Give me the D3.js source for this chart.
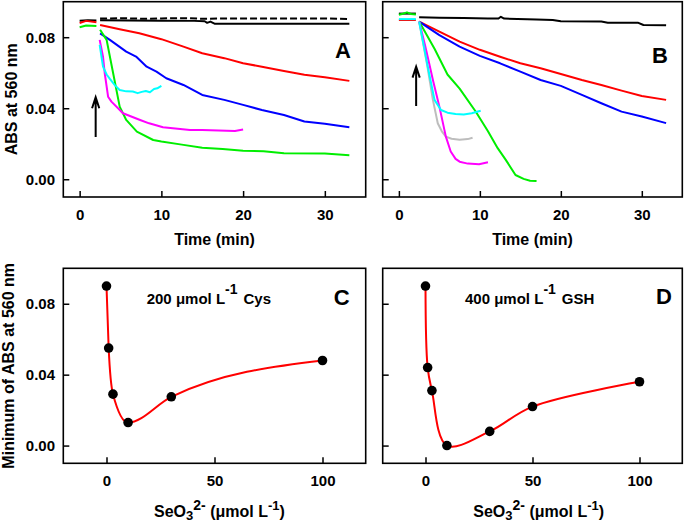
<!DOCTYPE html>
<html><head><meta charset="utf-8">
<script src="https://cdn.jsdelivr.net/npm/d3@7/dist/d3.min.js"></script>
<style>
body{margin:0;background:#fff}
svg{display:block}
text{font-family:"Liberation Sans",Arial,sans-serif;font-weight:bold;fill:#000}
</style>
</head><body>
<svg id="chart" width="685" height="524"></svg>
<script>
// ---------- tick labels ----------
const timeTicks = [0, 10, 20, 30];
const seTicks = [0, 50, 100];
const absTicks = [0, 0.04, 0.08];

// ---------- Panel A (200 umol/L Cys), [time(min), ABS] ----------
const aBlackPre = [[0,0.0893],[1,0.0896],[2.05,0.0894]];
const aRedPre = [[0,0.0880],[0.8,0.0892],[2.05,0.0884]];
const aGreenPre = [[0,0.0856],[0.8,0.0866],[2.05,0.0863]];
const aBlack = [[2.5,0.0896],[6,0.0894],[10,0.0893],[14,0.0892],[15.3,0.0890],[15.6,0.0881],[16,0.0888],[16.5,0.0876],[20,0.0876],[25,0.0876],[30,0.0876],[33,0.0876]];
const aBlackDash = [[2.5,0.0905],[5,0.0907],[8,0.0904],[10,0.0906],[13,0.0907],[15,0.0904],[18,0.0906],[20,0.0906],[25,0.0905],[30,0.0906],[33,0.0902]];
const aRed = [[2.5,0.0869],[4.9,0.0845],[7.3,0.0822],[10,0.0789],[12.7,0.0747],[15,0.0710],[17.7,0.0682],[20,0.0653],[22.3,0.0634],[25,0.0610],[27.5,0.0588],[30,0.0575],[33,0.0554]];
const aBlue = [[2.5,0.0822],[3.7,0.0785],[5.7,0.0719],[6.9,0.0691],[8.2,0.0634],[9.4,0.0606],[10.6,0.0569],[12.7,0.0531],[15,0.0475],[17.7,0.0447],[20,0.0419],[22.3,0.0390],[25,0.0362],[27.5,0.0325],[30,0.0312],[33,0.0293]];
const aGreen = [[2.5,0.0842],[3.3,0.0785],[4.1,0.0597],[4.9,0.0409],[5.7,0.0334],[7,0.0268],[9,0.0221],[10,0.0212],[12.5,0.0195],[15,0.0178],[17.5,0.0170],[20,0.0161],[22.5,0.0158],[25,0.0146],[30,0.0145],[33,0.0135]];
const aMagenta = [[2.45,0.0785],[2.86,0.0690],[3.07,0.0597],[3.48,0.0465],[3.89,0.0437],[5.3,0.0372],[7.4,0.0334],[8.5,0.0315],[10.2,0.0293],[12,0.0285],[13.5,0.0278],[15,0.0278],[17,0.0275],[19,0.0272],[20,0.0280]];
const aCyan = [[2.45,0.0757],[2.86,0.0634],[3.3,0.0590],[3.7,0.0565],[4.3,0.0530],[4.9,0.0503],[5.7,0.0495],[6.5,0.0494],[7.1,0.0485],[7.6,0.0492],[8.1,0.0497],[8.6,0.0490],[9.1,0.0508],[9.5,0.0512],[10,0.0526]];
const aArrow = [1.96, 0.0238, 0.0462];

// ---------- Panel B (400 umol/L GSH) ----------
const bBlackPre = [[0,0.0933],[2.1,0.0933]];
const bGreenPre = [[0,0.0926],[0.5,0.0932],[1,0.0940],[1.5,0.0931],[2.1,0.0928]];
const bCyanPre = [[0,0.0902],[2.1,0.0902]];
const bRedPre = [[0,0.0897],[2.1,0.0897]];
const bBlack = [[2.5,0.0913],[5,0.0910],[8,0.0908],[11,0.0905],[12.3,0.0905],[12.6,0.0915],[13,0.0905],[17,0.0900],[19,0.0897],[20,0.0890],[25,0.0888],[25.8,0.0882],[29.5,0.0882],[30.2,0.0869],[33,0.0867]];
const bRed = [[2.5,0.0888],[5,0.0832],[7.5,0.0775],[10,0.0729],[12.5,0.0690],[15,0.0653],[17.5,0.0625],[20,0.0593],[22.6,0.0559],[25,0.0531],[27.5,0.0499],[30,0.0469],[33,0.0447]];
const bBlue = [[2.5,0.0888],[5,0.0812],[7.5,0.0747],[10,0.0695],[12.5,0.0653],[15,0.0606],[17.5,0.0559],[20,0.0526],[22.6,0.0475],[25,0.0428],[27.5,0.0381],[30,0.0353],[33,0.0316]];
const bGreen = [[2.5,0.0888],[4.4,0.0735],[6,0.0590],[7.5,0.0510],[9.5,0.0380],[11,0.0270],[12.2,0.0175],[13.2,0.0109],[14.4,0.0024],[15.4,0.0002],[16.2,-0.0008],[17,-0.0010]];
const bGray = [[2.5,0.0888],[3.5,0.0640],[4.2,0.0447],[4.8,0.0315],[5.3,0.0270],[5.8,0.0240],[6.5,0.0228],[7.5,0.0222],[8.5,0.0226],[9.1,0.0234]];
const bMagenta = [[2.5,0.0888],[3.2,0.0760],[3.7,0.0660],[4.2,0.0559],[5.0,0.0409],[5.8,0.0240],[6.4,0.0156],[7.0,0.0115],[7.5,0.0099],[8.5,0.0088],[9.9,0.0085],[11,0.0096]];
const bCyan = [[2.5,0.0888],[3.0,0.0770],[3.5,0.0650],[3.8,0.0580],[4.4,0.0447],[5.2,0.0390],[6,0.0375],[7,0.0368],[8,0.0365],[9,0.0372],[10.1,0.0386]];
const bArrow = [2.13, 0.0413, 0.0634];

// ---------- Panels C, D: minimum ABS vs SeO3 2- ----------
const seC = [0, 1, 3, 10, 30, 100];
const minC = [0.090, 0.055, 0.029, 0.013, 0.0275, 0.048];
const seD = [0, 1, 3, 10, 30, 50, 100];
const minD = [0.090, 0.044, 0.031, 0.000, 0.008, 0.022, 0.036];

// ---------- drawing ----------
const svg = d3.select("#chart");
svg.append("rect").attr("width",685).attr("height",524).attr("fill","#fff");

const frames = {
  A:{x0:63.3,y0:1.7,x1:365.7,y1:197},
  B:{x0:382.7,y0:1.7,x1:682.3,y1:197},
  C:{x0:63.3,y0:268.3,x1:365.7,y1:463.3},
  D:{x0:382.7,y0:268.3,x1:682.3,y1:463.3}
};

function makePanel(f, xDom, xTicks, yLabels) {
  const x = d3.scaleLinear().domain(xDom).range([f.x0, f.x1]);
  const y = d3.scaleLinear().domain([-0.01, 0.1]).range([f.y1, f.y0]);
  const g = svg.append("g");
  const gx = g.append("g").attr("transform",`translate(0,${f.y1})`)
    .call(d3.axisBottom(x).tickValues(xTicks).tickSize(-6).tickSizeOuter(0).tickPadding(12.5).tickFormat(d3.format("d")));
  const gy = g.append("g").attr("transform",`translate(${f.x0},0)`)
    .call(d3.axisLeft(y).tickValues(absTicks).tickSize(-6).tickSizeOuter(0).tickPadding(8.3)
      .tickFormat(yLabels ? d3.format(".2f") : () => ""));
  [gx, gy].forEach(a => {
    a.select(".domain").remove();
    a.selectAll("line").attr("stroke","#000").attr("stroke-width",1.5);
    a.selectAll("text").style("font-size","15px");
  });
  g.append("rect").attr("x",f.x0).attr("y",f.y0).attr("width",f.x1-f.x0).attr("height",f.y1-f.y0)
    .attr("fill","none").attr("stroke","#000").attr("stroke-width",1.6);
  return {x, y, g};
}

function drawLines(p, list) {
  const line = d3.line().x(d => p.x(d[0])).y(d => p.y(d[1]));
  list.forEach(s => {
    p.g.append("path").datum(s.data).attr("d", line).attr("fill","none")
      .attr("stroke", s.color).attr("stroke-width", 2).attr("stroke-linejoin","round")
      .attr("stroke-dasharray", s.dash || null);
  });
}

function drawArrow(p, a) {
  const xx = p.x(a[0]), yb = p.y(a[1]), yt = p.y(a[2]);
  p.g.append("path").attr("d", `M${xx},${yb}L${xx},${yt}M${xx-3.6},${yt+11}L${xx},${yt}L${xx+3.6},${yt+11}`)
    .attr("fill","none").attr("stroke","#000").attr("stroke-width",2);
}

const RED="#ff0000", BLUE="#0000ff", GREEN="#00ee00", MAG="#ff00ff", CYAN="#00ffff", GRAY="#bdbdbd", BLK="#000";

// Panel A
const pA = makePanel(frames.A, [-2, 35], timeTicks, true);
drawLines(pA, [
  {data:aBlackPre,color:BLK},{data:aRedPre,color:RED},{data:aGreenPre,color:GREEN},
  {data:aBlack,color:BLK},{data:aBlackDash,color:BLK,dash:"7,3"},
  {data:aRed,color:RED},{data:aBlue,color:BLUE},{data:aGreen,color:GREEN},
  {data:aMagenta,color:MAG},{data:aCyan,color:CYAN}
]);
drawArrow(pA, aArrow);

// Panel B
const pB = makePanel(frames.B, [-2, 35], timeTicks, false);
drawLines(pB, [
  {data:bBlackPre,color:BLK},{data:bRedPre,color:RED},{data:bCyanPre,color:CYAN},{data:bGreenPre,color:GREEN},
  {data:bBlack,color:BLK},{data:bRed,color:RED},{data:bBlue,color:BLUE},{data:bGreen,color:GREEN},
  {data:bGray,color:GRAY},{data:bMagenta,color:MAG},{data:bCyan,color:CYAN}
]);
drawArrow(pB, bArrow);

// Panels C, D
function drawMin(p, xs, ys, curve) {
  const pts = xs.map((v,i) => [v, ys[i]]);
  const line = d3.line().x(d => p.x(d[0])).y(d => p.y(d[1])).curve(curve);
  p.g.append("path").datum(pts).attr("d", line).attr("fill","none").attr("stroke",RED).attr("stroke-width",2);
  p.g.selectAll(null).data(pts).join("circle").attr("cx",d=>p.x(d[0])).attr("cy",d=>p.y(d[1])).attr("r",4.8).attr("fill","#000");
}
const pC = makePanel(frames.C, [-20, 120], seTicks, true);
drawMin(pC, seC, minC, d3.curveMonotoneX);
const pD = makePanel(frames.D, [-20, 120], seTicks, false);
drawMin(pD, seD, minD, d3.curveCatmullRom.alpha(0.5));

// ---------- texts ----------
function label(x, y, txt, size, anchor) {
  return svg.append("text").attr("x",x).attr("y",y).attr("text-anchor",anchor||"middle").style("font-size",size+"px").text(txt);
}
label(214.5, 245, "Time (min)", 16);
label(532.5, 245, "Time (min)", 16);
svg.append("text").attr("transform","translate(17,99.3) rotate(-90)").attr("text-anchor","middle").style("font-size","16px").text("ABS at 560 nm");
svg.append("text").attr("transform","translate(13.5,365.8) rotate(-90)").attr("text-anchor","middle").style("font-size","16px").text("Minimum of ABS at 560 nm");

label(343, 58, "A", 22); label(660, 63, "B", 22);
label(341.7, 305, "C", 22); label(664, 303.5, "D", 22);

function seTitle(x0) {
  const t = svg.append("text").attr("x",x0).attr("y",516.5).style("font-size","16px");
  t.append("tspan").text("SeO");
  t.append("tspan").attr("dy",3.5).style("font-size","13px").text("3");
  t.append("tspan").attr("dy",-10.5).style("font-size","14px").text("2-");
  t.append("tspan").attr("dy",7).text(" (μmol L");
  t.append("tspan").attr("dy",-7).style("font-size","13px").text("-1");
  t.append("tspan").attr("dy",7).text(")");
}
seTitle(154); seTitle(473.3);

function condText(x0, a, b) {
  const t = svg.append("text").attr("x",x0).attr("y",303.5).style("font-size","15px");
  t.append("tspan").text(a + " μmol L");
  t.append("tspan").attr("dy",-10).style("font-size","14px").text("-1");
  t.append("tspan").attr("dy",10).attr("dx",6).text(b);
}
condText(146.7, "200", "Cys");
condText(465, "400", "GSH");
</script>
</body></html>
